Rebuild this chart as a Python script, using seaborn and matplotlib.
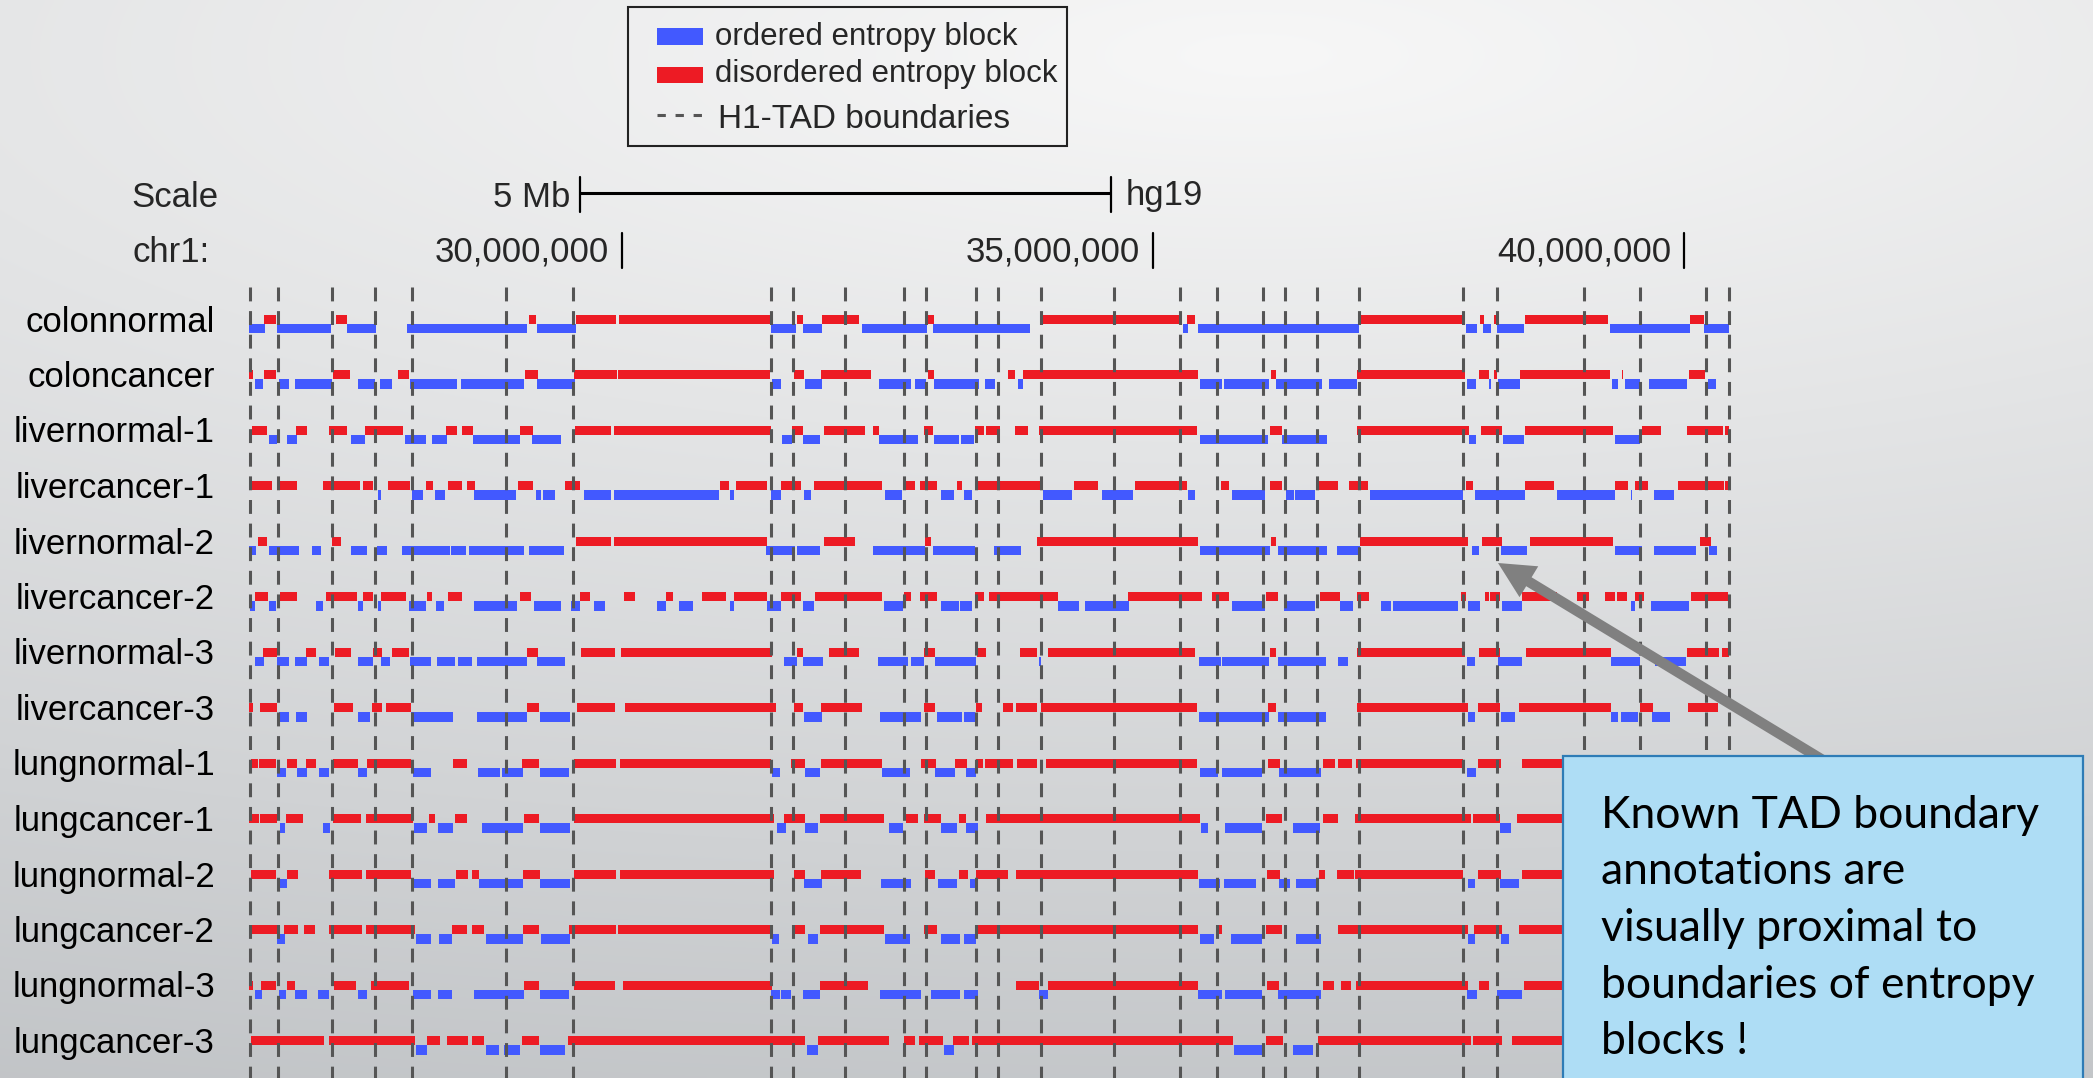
import numpy as np
import matplotlib
matplotlib.use("Agg")
import matplotlib.pyplot as plt
from matplotlib.patches import Rectangle, ArrowStyle
import seaborn as sns

# ---------------- data (chr1, hg19, positions in Mb) ----------------
samples = ["colonnormal", "coloncancer", "livernormal-1", "livercancer-1",
           "livernormal-2", "livercancer-2", "livernormal-3", "livercancer-3",
           "lungnormal-1", "lungcancer-1", "lungnormal-2", "lungcancer-2",
           "lungnormal-3", "lungcancer-3"]

tad_boundaries = [26.50, 26.76, 27.27, 27.67, 28.02, 28.91, 29.54, 31.40, 31.61,
                  32.10, 32.66, 32.86, 33.33, 33.54, 33.95, 34.63, 35.25, 35.60,
                  36.04, 36.24, 36.54, 36.94, 37.92, 38.24, 39.06, 39.59, 40.21, 40.42]

tick_values = [30_000_000, 35_000_000, 40_000_000]
scale_start_mb = 29.6
scale_len_mb = 5

colonnormal_dis = [(26.63,26.74),(27.31,27.41),(29.12,29.19),(29.57,29.94),(29.97,31.39),(31.65,31.70),(31.88,32.23),(32.88,32.94),(33.96,35.25),(35.32,35.40),(36.96,37.91),(38.08,38.12),(38.21,38.23),(38.50,39.28),(40.06,40.19)]
colonnormal_ord = [(26.49,26.64),(26.75,27.26),(27.41,27.68),(27.98,29.11),(29.20,29.57),(31.40,31.64),(31.70,31.88),(32.26,32.87),(32.93,33.84),(35.28,35.33),(35.42,36.94),(37.95,38.05),(38.11,38.18),(38.24,38.49),(39.30,40.06),(40.19,40.42)]

coloncancer_dis = [(26.49,26.53),(26.63,26.74),(27.28,27.44),(27.89,27.99),(29.09,29.21),(29.55,29.95),(29.96,31.39),(31.62,31.71),(31.87,32.34),(32.88,32.94),(33.63,33.70),(33.78,35.42),(36.11,36.16),(36.92,37.94),(38.07,38.16),(38.21,38.24),(38.46,39.30),(39.42,39.43),(40.05,40.20)]
coloncancer_ord = [(26.54,26.62),(26.77,26.86),(26.92,27.27),(27.51,27.67),(27.72,27.83),(28.00,28.45),(28.48,29.08),(29.20,29.56),(31.41,31.50),(31.72,31.88),(32.42,32.72),(32.76,32.86),(32.94,33.36),(33.42,33.51),(33.73,33.78),(35.44,35.65),(35.67,36.09),(36.16,36.59),(36.66,36.92),(37.96,38.04),(38.16,38.18),(38.25,38.46),(39.32,39.38),(39.44,39.59),(39.67,40.03),(40.23,40.30)]

livernormal1_dis = [(26.52,26.66),(26.93,27.03),(27.24,27.41),(27.58,27.94),(28.34,28.45),(28.49,28.60),(29.04,29.16),(29.56,29.90),(29.92,31.40),(31.60,31.70),(31.90,32.29),(32.36,32.42),(32.84,32.93),(33.32,33.41),(33.43,33.56),(33.70,33.82),(33.93,35.41),(36.10,36.21),(36.92,37.98),(38.09,38.29),(38.50,39.33),(39.60,39.78),(40.03,40.37),(40.39,40.42)]
livernormal1_ord = [(26.68,26.75),(26.85,26.94),(27.45,27.58),(27.96,28.15),(28.21,28.35),(28.60,29.04),(29.15,29.43),(31.51,31.60),(31.70,31.86),(32.42,32.79),(32.94,33.17),(33.19,33.31),(35.44,36.08),(36.21,36.64),(37.98,38.04),(38.30,38.49),(39.35,39.59)]

livercancer1_dis = [(26.51,26.70),(26.77,26.94),(27.18,27.53),(27.56,27.66),(27.80,28.00),(28.15,28.22),(28.36,28.49),(28.54,28.62),(29.02,29.16),(29.46,29.60),(30.92,31.01),(31.07,31.37),(31.50,31.69),(31.81,32.45),(32.67,32.76),(32.81,32.97),(33.15,33.20),(33.32,33.95),(34.26,34.48),(34.83,35.32),(35.64,35.72),(36.10,36.21),(36.56,36.74),(36.85,37.02),(37.95,38.01),(38.50,38.78),(39.35,39.47),(39.54,39.66),(39.94,40.38),(40.39,40.42)]
livercancer1_ord = [(27.70,27.73),(28.02,28.13),(28.24,28.33),(28.61,29.00),(29.19,29.24),(29.26,29.37),(29.64,29.90),(29.92,30.91),(31.02,31.05),(31.40,31.50),(31.71,31.78),(32.48,32.64),(33.00,33.13),(33.22,33.30),(33.96,34.24),(34.52,34.81),(35.33,35.40),(35.74,36.05),(36.25,36.33),(36.34,36.53),(37.04,37.92),(38.03,38.50),(38.80,39.35),(39.50,39.51),(39.72,39.91)]

livernormal2_dis = [(26.57,26.66),(27.27,27.35),(29.57,29.90),(29.92,31.37),(31.90,32.19),(32.85,32.91),(33.91,35.42),(36.11,36.16),(36.95,37.97),(38.10,38.29),(38.55,39.33),(40.15,40.25)]
livernormal2_ord = [(26.49,26.55),(26.68,26.96),(27.08,27.17),(27.45,27.60),(27.69,27.79),(27.93,28.38),(28.39,28.53),(28.56,29.08),(29.12,29.45),(31.36,31.63),(31.65,31.86),(32.36,32.85),(32.93,33.32),(33.50,33.76),(35.44,36.10),(36.18,36.64),(36.73,36.95),(38.00,38.07),(38.28,38.52),(39.35,39.60),(39.72,40.11),(40.24,40.31)]

livercancer2_dis = [(26.54,26.67),(26.78,26.94),(27.21,27.50),(27.56,27.66),(27.73,27.97),(28.16,28.21),(28.36,28.49),(29.04,29.14),(29.60,29.70),(30.02,30.12),(30.41,30.48),(30.75,30.98),(31.05,31.37),(31.50,31.69),(31.82,32.45),(32.66,32.72),(32.81,32.97),(33.32,33.41),(33.46,34.11),(34.76,35.46),(35.56,35.72),(36.06,36.18),(36.57,36.76),(36.92,37.03),(37.90,37.95),(38.13,38.16),(38.17,38.27),(38.47,38.80),(38.99,39.11),(39.26,39.35),(39.37,39.46),(39.54,39.62),(40.07,40.41)]
livercancer2_ord = [(26.50,26.54),(26.68,26.74),(27.12,27.18),(27.51,27.56),(27.70,27.73),(27.99,28.15),(28.25,28.32),(28.61,29.01),(29.17,29.43),(29.52,29.60),(29.74,29.84),(30.33,30.41),(30.54,30.67),(31.02,31.05),(31.37,31.50),(31.70,31.81),(32.47,32.65),(33.00,33.17),(33.18,33.30),(34.11,34.30),(34.36,34.77),(35.74,36.05),(36.23,36.53),(36.76,36.88),(37.15,37.24),(37.26,37.87),(37.97,38.08),(38.29,38.47),(39.50,39.54),(39.69,40.05)]

livernormal3_dis = [(26.62,26.75),(27.02,27.12),(27.30,27.45),(27.66,27.74),(27.83,27.99),(29.11,29.21),(29.61,29.93),(29.99,31.41),(31.65,31.70),(31.95,32.23),(32.84,32.95),(33.34,33.43),(33.75,33.91),(34.01,35.40),(36.10,36.16),(36.92,37.94),(38.07,38.27),(38.51,39.31),(40.03,40.33),(40.36,40.42)]
livernormal3_ord = [(26.54,26.63),(26.75,26.86),(26.92,27.03),(27.15,27.24),(27.51,27.66),(27.73,27.82),(28.00,28.20),(28.26,28.43),(28.46,28.59),(28.63,29.11),(29.20,29.46),(31.53,31.65),(31.70,31.89),(32.41,32.69),(32.72,32.84),(32.95,33.33),(33.93,33.95),(35.43,35.64),(35.65,36.09),(36.18,36.63),(36.74,36.84),(37.96,38.03),(38.25,38.47),(39.31,39.59),(39.73,40.02)]

livercancer3_dis = [(26.49,26.53),(26.59,26.75),(27.29,27.47),(27.65,27.74),(27.78,28.01),(29.11,29.22),(29.58,29.93),(30.03,31.45),(31.62,31.70),(31.87,32.26),(32.84,32.95),(33.33,33.39),(33.59,33.68),(33.71,33.91),(33.95,35.41),(36.08,36.16),(36.92,37.97),(38.06,38.27),(38.45,39.31),(39.59,39.71),(40.04,40.32)]
livercancer3_ord = [(26.77,26.86),(26.93,27.03),(27.51,27.63),(28.01,28.41),(28.63,29.11),(29.23,29.51),(31.71,31.88),(32.43,32.82),(32.97,33.20),(33.22,33.32),(35.43,36.09),(36.18,36.63),(37.97,38.03),(38.28,38.41),(39.31,39.38),(39.41,39.57),(39.70,39.87)]

lungnormal1_dis = [(26.51,26.57),(26.58,26.74),(26.85,26.94),(27.02,27.12),(27.28,27.51),(27.60,28.01),(28.41,28.54),(29.06,29.22),(29.55,29.94),(29.98,31.40),(31.59,31.72),(31.87,32.45),(32.82,32.96),(33.14,33.25),(33.33,33.40),(33.42,33.68),(33.72,33.91),(33.99,35.41),(36.08,36.20),(36.60,36.71),(36.74,36.87),(36.91,37.92),(38.06,38.28),(38.47,39.21)]
lungnormal1_ord = [(26.75,26.84),(26.94,27.03),(27.15,27.24),(27.51,27.60),(28.03,28.20),(28.64,28.85),(28.87,29.07),(29.23,29.50),(31.41,31.49),(31.72,31.86),(32.45,32.71),(32.95,33.14),(33.24,33.33),(35.44,35.61),(35.65,36.03),(36.19,36.58),(37.96,38.04)]

lungcancer1_dis = [(26.49,26.58),(26.59,26.75),(26.84,27.00),(27.28,27.54),(27.59,28.03),(28.18,28.24),(28.43,28.54),(29.08,29.22),(29.55,31.43),(31.53,31.72),(31.86,32.47),(32.67,32.79),(32.84,33.00),(33.17,33.24),(33.43,35.44),(36.06,36.21),(36.60,36.74),(36.90,37.99),(38.01,38.27),(38.43,39.21)]
lungcancer1_ord = [(26.78,26.83),(27.18,27.25),(28.04,28.16),(28.27,28.41),(28.68,29.07),(29.23,29.51),(31.46,31.54),(31.72,31.85),(32.51,32.65),(33.00,33.15),(33.24,33.35),(35.45,35.52),(35.68,36.03),(36.32,36.57),(38.27,38.37)]

lungnormal2_dis = [(26.51,26.74),(26.85,26.95),(27.24,27.55),(27.59,28.01),(28.44,28.55),(28.59,28.65),(29.07,29.23),(29.55,29.94),(29.98,31.43),(31.62,31.72),(31.87,32.25),(32.85,32.95),(33.17,33.26),(33.33,33.63),(33.71,35.42),(36.07,36.20),(36.56,36.62),(36.73,36.89),(36.90,37.92),(38.06,38.28),(38.47,39.21)]
lungnormal2_ord = [(26.77,26.85),(28.02,28.20),(28.27,28.43),(28.65,29.07),(29.23,29.51),(31.71,31.88),(32.44,32.72),(32.98,33.15),(33.28,33.33),(35.43,35.63),(35.67,35.97),(36.19,36.29),(36.35,36.54),(37.97,38.03),(38.27,38.45)]

lungcancer2_dis = [(26.49,26.75),(26.82,26.95),(27.01,27.11),(27.24,27.55),(27.59,28.05),(28.40,28.54),(28.59,28.70),(29.07,29.22),(29.50,29.94),(29.96,31.41),(31.60,31.72),(31.86,32.47),(32.84,32.97),(33.33,35.42),(35.59,35.65),(36.06,36.21),(36.74,37.97),(38.02,38.29),(38.45,39.21)]
lungcancer2_ord = [(26.75,26.83),(28.06,28.20),(28.28,28.40),(28.72,29.07),(29.24,29.51),(31.41,31.48),(31.75,31.85),(32.48,32.71),(33.00,33.18),(33.22,33.33),(35.44,35.57),(35.73,36.03),(36.35,36.58),(37.97,38.03),(38.28,38.35)]

lungnormal3_dis = [(26.49,26.53),(26.60,26.74),(26.85,26.92),(27.29,27.50),(27.64,27.99),(29.08,29.22),(29.55,29.93),(30.01,31.41),(31.86,32.32),(33.71,33.93),(34.01,35.42),(36.07,36.19),(36.60,36.70),(36.77,36.86),(36.91,37.97),(38.07,38.16),(38.49,39.21)]
lungnormal3_ord = [(26.54,26.61),(26.77,26.84),(26.92,27.03),(27.14,27.24),(27.51,27.60),(28.03,28.20),(28.27,28.40),(28.61,29.08),(29.23,29.50),(31.40,31.49),(31.50,31.59),(31.70,31.86),(32.43,32.82),(32.91,33.18),(33.22,33.35),(33.93,34.01),(35.42,35.65),(35.68,36.03),(36.18,36.58),(37.96,38.05),(38.24,38.47)]

lungcancer3_dis = [(26.51,27.19),(27.24,28.05),(28.16,28.29),(28.35,28.55),(28.59,28.70),(29.06,29.22),(29.49,31.72),(31.85,32.51),(32.66,32.76),(32.80,33.02),(33.12,33.27),(33.30,35.75),(36.06,36.22),(36.55,37.99),(38.01,38.29),(38.38,39.21)]
lungcancer3_ord = [(28.06,28.16),(28.72,28.84),(28.89,29.04),(29.23,29.46),(31.74,31.85),(33.03,33.13),(35.76,36.03),(36.32,36.51)]

disordered_blocks = [colonnormal_dis, coloncancer_dis, livernormal1_dis, livercancer1_dis,
                     livernormal2_dis, livercancer2_dis, livernormal3_dis, livercancer3_dis,
                     lungnormal1_dis, lungcancer1_dis, lungnormal2_dis, lungcancer2_dis,
                     lungnormal3_dis, lungcancer3_dis]
ordered_blocks = [colonnormal_ord, coloncancer_ord, livernormal1_ord, livercancer1_ord,
                  livernormal2_ord, livercancer2_ord, livernormal3_ord, livercancer3_ord,
                  lungnormal1_ord, lungcancer1_ord, lungnormal2_ord, lungcancer2_ord,
                  lungnormal3_ord, lungcancer3_ord]

legend_labels = ["ordered entropy block", "disordered entropy block", "H1-TAD boundaries"]
note_lines = ["Known TAD boundary", "annotations are", "visually proximal to",
              "boundaries of entropy", "blocks !"]

# ---------------- style ----------------
sns.set_theme(style="white")
plt.rcParams["font.family"] = ["Liberation Sans", "DejaVu Sans"]
plt.rcParams["lines.scale_dashes"] = False
BLUE, RED = sns.color_palette(["#4259FF", "#ED1B24"])
DASH = "#555555"

W, H, DPI = 2093, 1078, 100
fig = plt.figure(figsize=(W / DPI, H / DPI), dpi=DPI)

def fx(px):
    return px / W

def fy(py):
    return 1 - py / H

# background gradient
bg = fig.add_axes([0, 0, 1, 1], zorder=-10)
yy, xx = np.mgrid[0:H:3, 0:W:3]
t = np.sqrt(((xx - 0.6 * W) / (2.0 * W)) ** 2 + ((yy - 0.05 * H) / (1.1 * H)) ** 2)
t = np.clip(t, 0, 1)[..., None]
light = np.array([247, 247, 247]) / 255
dark = np.array([189, 192, 195]) / 255
bg.imshow(light + t * (dark - light), extent=[0, W, H, 0], aspect="auto", interpolation="bilinear")
bg.axis("off")

# main track axes (genomic Mb on x, sample rows on y)
ax = fig.add_axes([0, 0, 1, 1])
ax.patch.set_alpha(0)
ROW0, ROWSTEP, PXPERMB = 323.5, 55.5, 106.2
ax.set_xlim(30 - 622 / PXPERMB, 30 + (W - 622) / PXPERMB)
ax.set_ylim((H - ROW0) / ROWSTEP, -ROW0 / ROWSTEP)
ax.axis("off")

def row_of(py):
    return (py - ROW0) / ROWSTEP

h_red, h_blue = 8.8 / ROWSTEP, 9.5 / ROWSTEP
for i, (dis, ordd) in enumerate(zip(disordered_blocks, ordered_blocks)):
    ax.barh([i - h_red] * len(dis), [e - s for s, e in dis], left=[s for s, e in dis],
            height=h_red, align="edge", color=RED, linewidth=0, zorder=2)
    ax.barh([i] * len(ordd), [e - s for s, e in ordd], left=[s for s, e in ordd],
            height=h_blue, align="edge", color=BLUE, linewidth=0, zorder=2)
    fig.text(fx(215), fy(ROW0 + ROWSTEP * i + 8), samples[i], ha="right",
             va="baseline", fontsize=25, color="black")

# TAD boundaries
ax.vlines(tad_boundaries, row_of(287), row_of(H + 5), colors=DASH, linewidth=2.2,
          linestyles=[(0, (10, 7))], zorder=3)

# scale bar
y_sb = row_of(193)
ax.plot([scale_start_mb, scale_start_mb + scale_len_mb], [y_sb, y_sb], color="black",
        lw=2.2, solid_capstyle="butt")
for xe in (scale_start_mb, scale_start_mb + scale_len_mb):
    ax.plot([xe, xe], [row_of(177), row_of(212)], color="black", lw=1.6)
ax.text(scale_start_mb - 9 / PXPERMB, row_of(207), f"{scale_len_mb} Mb", ha="right",
        va="baseline", fontsize=25)
ax.text(scale_start_mb + scale_len_mb + 15 / PXPERMB, row_of(205), "hg19", ha="left",
        va="baseline", fontsize=25)
fig.text(fx(131), fy(207), "Scale", ha="left", va="baseline", fontsize=25)

# chromosome ruler
fig.text(fx(133), fy(262), "chr1:", ha="left", va="baseline", fontsize=25)
for tv in tick_values:
    mb = tv / 1e6
    ax.plot([mb, mb], [row_of(233), row_of(268)], color="black", lw=1.6)
    ax.text(mb - 13 / PXPERMB, row_of(262), f"{tv:,}", ha="right", va="baseline", fontsize=25)

# legend
fig.add_artist(Rectangle((fx(628), fy(146)), fx(1067) - fx(628), fy(7) - fy(146),
                         transform=fig.transFigure, fill=False, ec="#222222", lw=1.5, zorder=4))
fig.add_artist(Rectangle((fx(657), fy(45)), fx(703) - fx(657), fy(28) - fy(45),
                         transform=fig.transFigure, fc=BLUE, ec="none", zorder=4))
fig.add_artist(Rectangle((fx(657), fy(83)), fx(703) - fx(657), fy(67) - fy(83),
                         transform=fig.transFigure, fc=RED, ec="none", zorder=4))
fig.add_artist(plt.Line2D([fx(657), fx(703)], [fy(115), fy(115)], transform=fig.transFigure,
                          color=DASH, lw=2.2, linestyle=(0, (6, 7)), zorder=4))
fig.text(fx(715), fy(45), legend_labels[0], ha="left", va="baseline", fontsize=22.5)
fig.text(fx(715), fy(82), legend_labels[1], ha="left", va="baseline", fontsize=22.5)
fig.text(fx(718), fy(128), legend_labels[2], ha="left", va="baseline", fontsize=24)

# annotation arrow + note box
ax.annotate("", xy=(1498, H - 563), xytext=(1826, H - 762), xycoords="figure pixels",
            textcoords="figure pixels",
            arrowprops=dict(arrowstyle=ArrowStyle("simple", head_length=26, head_width=26,
                                                  tail_width=7.5),
                            mutation_scale=1, color="#808080", lw=0, shrinkA=0, shrinkB=0))
fig.add_artist(Rectangle((fx(1563), -0.05), fx(2083) - fx(1563), fy(756) + 0.05,
                         transform=fig.transFigure, fc="#AEDDF5", ec="#2E7CB6", lw=1.6, zorder=5))
for k, line in enumerate(note_lines):
    fig.text(fx(1601), fy(828 + 56.5 * k), line, ha="left", va="baseline", fontsize=32,
             family=["Lato", "DejaVu Sans"], color="black", zorder=6)

fig.savefig("out.png", dpi=DPI)
